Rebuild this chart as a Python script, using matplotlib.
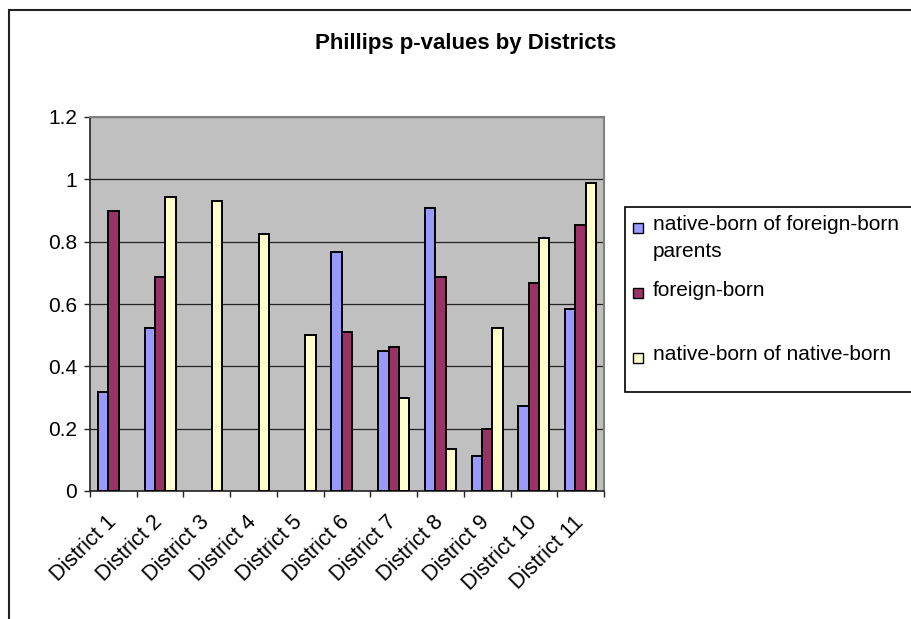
import numpy as np
import matplotlib
matplotlib.use("Agg")
import matplotlib.pyplot as plt
import matplotlib.transforms as mtransforms
from matplotlib.patches import Rectangle

plt.rcParams['font.family'] = ['Liberation Sans', 'DejaVu Sans']

# Data (nan = no bar drawn)
districts = ['District 1', 'District 2', 'District 3', 'District 4', 'District 5',
             'District 6', 'District 7', 'District 8', 'District 9', 'District 10',
             'District 11']
native_foreign_parents = [0.317, 0.523, np.nan, np.nan, np.nan, 0.767, 0.449, 0.907, 0.111, 0.274, 0.585]
foreign_born = [0.899, 0.686, np.nan, np.nan, np.nan, 0.511, 0.461, 0.686, 0.199, 0.668, 0.855]
native_native = [np.nan, 0.943, 0.931, 0.823, 0.499, np.nan, 0.299, 0.136, 0.523, 0.812, 0.987]

series_names = ['native-born of foreign-born\nparents', 'foreign-born', 'native-born of native-born']
colors = ['#9999FF', '#993366', '#FFFFCC']
yticks = [0, 0.2, 0.4, 0.6, 0.8, 1, 1.2]
ytick_labels = ['0', '0.2', '0.4', '0.6', '0.8', '1', '1.2']

W, H = 912, 619
fig = plt.figure(figsize=(W / 100, H / 100), dpi=100)

# whole chart area border (runs off the right and bottom edges)
fig.patches.append(Rectangle((9 / W, -0.1), 1.2, (H - 10) / H + 0.1, transform=fig.transFigure,
                             fill=False, edgecolor='#222222', linewidth=1.5))

ax = fig.add_axes([90 / W, 1 - 491 / H, 514 / W, 374 / H])
ax.set_facecolor('#C0C0C0')

x = np.arange(len(districts))
bw = 1 / 4.5
for i, (vals, c) in enumerate(zip([native_foreign_parents, foreign_born, native_native], colors)):
    ax.bar(x + (i - 1) * bw, vals, width=bw, color=c, edgecolor='black', linewidth=1.4, zorder=3)

ax.set_xlim(-0.5, len(districts) - 0.5)
ax.set_ylim(0, 1.2)
ax.set_yticks(yticks)
ax.set_yticklabels(ytick_labels)
ax.yaxis.grid(True, color='#222222', linewidth=0.9)
ax.set_axisbelow(True)

ax.set_xticks(x)
ax.set_xticklabels(districts, rotation=45, ha='right', va='top', rotation_mode='anchor')
ax.set_xticks(np.arange(-0.5, len(districts)), minor=True)
ax.tick_params(axis='x', which='major', length=0, pad=15, labelsize=15.5)
ax.tick_params(axis='x', which='minor', length=4.5, width=1, color='#222222')
ax.tick_params(axis='y', length=4.5, width=1, color='#222222', pad=5, labelsize=15)
shift = mtransforms.ScaledTranslation(-0.08, 0, fig.dpi_scale_trans)
for lbl in ax.get_xticklabels():
    lbl.set_transform(lbl.get_transform() + shift)

for s in ['left', 'bottom']:
    ax.spines[s].set_color('#222222')
    ax.spines[s].set_linewidth(1.2)
for s in ['top', 'right']:
    ax.spines[s].set_color('#808080')
    ax.spines[s].set_linewidth(1.5)

fig.text(466 / W, 1 - 43 / H, 'Phillips p-values by Districts', ha='center', va='center',
         fontsize=16, fontweight='bold')

# legend box, drawn by hand to keep Excel's uneven spacing
fig.patches.append(Rectangle((625 / W, 1 - 392 / H), 0.4, (392 - 207) / H, transform=fig.transFigure,
                             facecolor='white', edgecolor='black', linewidth=1.2))
marker_y = [228, 293, 358]
text_y = [238, 290, 355]
for name, c, my, ty in zip(series_names, colors, marker_y, text_y):
    fig.patches.append(Rectangle((633 / W, 1 - (my + 5) / H), 10 / W, 10 / H, transform=fig.transFigure,
                                 facecolor=c, edgecolor='black', linewidth=1))
    fig.text(653 / W, 1 - ty / H, name, ha='left', va='center', fontsize=15, linespacing=1.5)

fig.savefig('out.png', dpi=100)
